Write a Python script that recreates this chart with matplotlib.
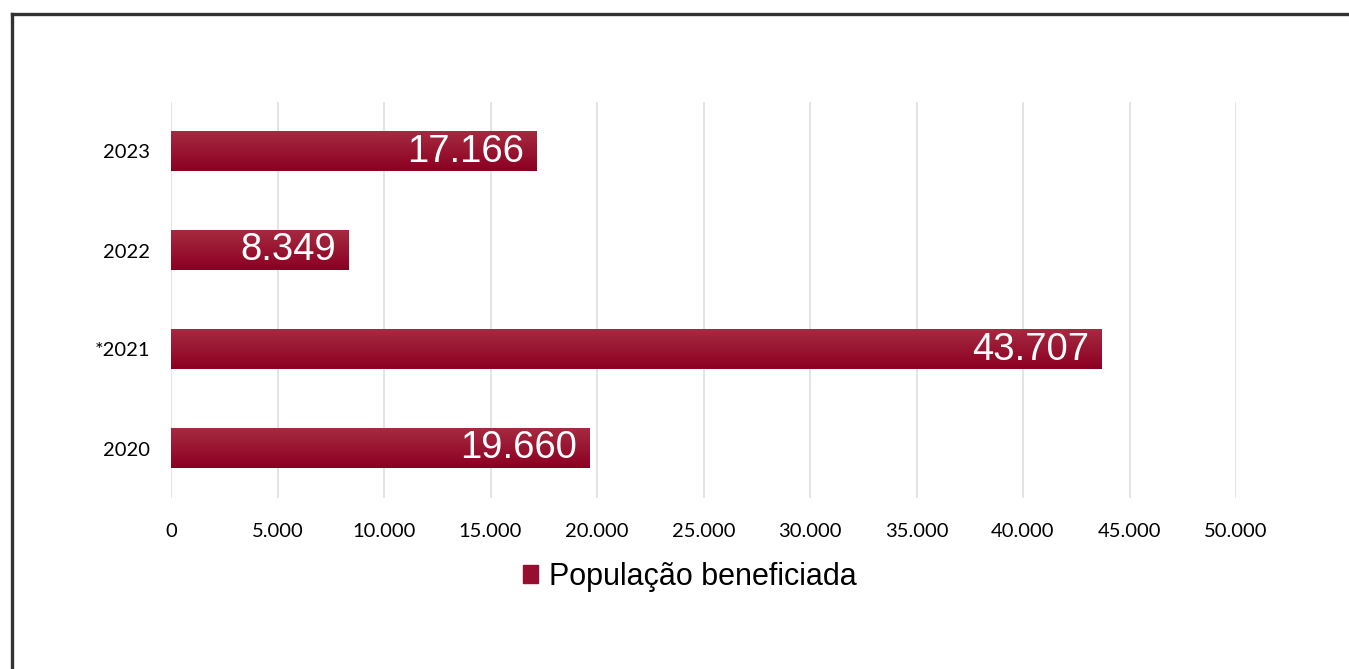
import matplotlib
matplotlib.use("Agg")
import matplotlib.pyplot as plt
import numpy as np
from matplotlib.lines import Line2D
from matplotlib.colors import LinearSegmentedColormap

categories = ["2020", "*2021", "2022", "2023"]
values = [19660, 43707, 8349, 17166]
value_labels = ["19.660", "43.707", "8.349", "17.166"]
xticks = [0, 5000, 10000, 15000, 20000, 25000, 30000, 35000, 40000, 45000, 50000]
xtick_labels = ["0", "5.000", "10.000", "15.000", "20.000", "25.000", "30.000",
                "35.000", "40.000", "45.000", "50.000"]
series_name = "População beneficiada"

fig = plt.figure(figsize=(13.49, 6.69), dpi=100)
ax = fig.add_axes([171/1349, 1-498/669, (1236-171)/1349, (498-102)/669])

ypos = np.arange(len(categories))
bar_h = 0.4
bars = ax.barh(ypos, values, height=bar_h, color="#8f0a2b", edgecolor="none", zorder=2)

cmap = LinearSegmentedColormap.from_list("g", ["#8c0022", "#a52a40"])
grad = np.linspace(0, 1, 64).reshape(-1, 1)
for b in bars:
    x0, y0 = b.get_x(), b.get_y()
    w, h = b.get_width(), b.get_height()
    ax.imshow(grad, cmap=cmap, extent=[x0, x0 + w, y0, y0 + h], origin="lower",
              aspect="auto", zorder=3, interpolation="bicubic")

for y, v, lab in zip(ypos, values, value_labels):
    ax.text(v - 580, y, lab, ha="right", va="center", color="white",
            fontsize=27.5, family="Liberation Sans", zorder=4)

ax.set_xlim(0, 50000)
ax.set_ylim(-0.5, 3.5)
ax.set_xticks(xticks)
ax.set_xticklabels(xtick_labels, family="Lato", fontsize=14.5)
ax.set_yticks(ypos)
ax.set_yticklabels(categories, family="Lato", fontsize=14.5)
ax.tick_params(axis="x", length=0, pad=18)
ax.tick_params(axis="y", length=0, pad=15)
ax.grid(axis="x", color="#e2e2e2", linewidth=1.3, zorder=0)
ax.set_axisbelow(True)
for s in ax.spines.values():
    s.set_visible(False)

handle = plt.Rectangle((0, 0), 1, 1, color="#960f30")
fig.legend([handle], [series_name], loc="center", bbox_to_anchor=(690/1349, 1-577/669),
           frameon=False, prop={"family": "Liberation Sans", "size": 22},
           handlelength=0.5, handleheight=0.5, handletextpad=0.35)

# frame border
fig.add_artist(Line2D([12/1349, 1.0], [1-14/669, 1-14/669], transform=fig.transFigure,
                      color="#333333", linewidth=2.4))
fig.add_artist(Line2D([12/1349, 12/1349], [1-14/669, 0.0], transform=fig.transFigure,
                      color="#333333", linewidth=2.4))

fig.savefig("out.png", dpi=100)
